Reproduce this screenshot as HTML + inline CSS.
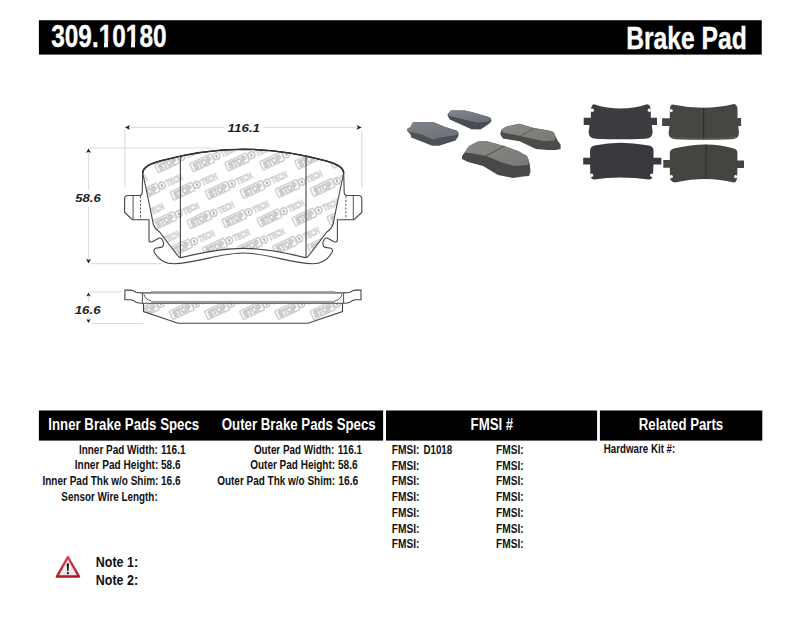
<!DOCTYPE html>
<html><head><meta charset="utf-8">
<style>
html,body{margin:0;padding:0;background:#fff;}
body{width:800px;height:619px;overflow:hidden;}
svg{display:block;font-family:"Liberation Sans",sans-serif;font-weight:bold;}
</style></head><body>
<svg width="800" height="619" viewBox="0 0 800 619">
<rect x="0" y="0" width="800" height="619" fill="#fff"/>
<rect x="38.9" y="20.25" width="722.85" height="34.35" fill="#000"/>
<rect x="38.9" y="410.5" width="344.2" height="30.1" fill="#000"/>
<rect x="386" y="410.5" width="211.1" height="30.1" fill="#000"/>
<rect x="599.9" y="410.5" width="162.4" height="30.1" fill="#000"/>
<g id="drawing">
<defs>
<clipPath id="fclip"><path d="M 243.20 149.20 C 213.00 149.40 182.00 155.00 161.00 160.80 C 150.50 163.80 143.30 166.50 142.70 173.00 L 149.50 205.00 L 153.50 225.00 Q 155.00 229.00 159.50 232.00 L 177.50 255.50 Q 179.00 257.50 181.00 257.60 C 200.00 253.00 220.00 248.40 243.20 248.40 C 266.40 248.40 286.40 253.00 305.40 257.60 Q 307.40 257.50 308.90 255.50 L 326.90 232.00 Q 331.40 229.00 332.90 225.00 L 336.90 205.00 L 343.70 173.00 C 343.10 166.50 335.90 163.80 325.40 160.80 C 304.40 155.00 273.40 149.40 243.20 149.20 Z"/></clipPath>
<clipPath id="sclip"><path d="M143.5 303 L342.5 303 L342.5 311.5 L308 323.3 L178 323.3 L143.5 311.5 Z"/></clipPath>
</defs>
<!-- dimension lines -->
<g stroke="#dedede" stroke-width="1.2" fill="none">
<line x1="124.9" y1="130" x2="124.9" y2="187"/>
<line x1="361.7" y1="130" x2="361.7" y2="188"/>
<line x1="130" y1="127.4" x2="224" y2="127.4"/>
<line x1="263" y1="127.4" x2="356" y2="127.4"/>
<line x1="90" y1="148" x2="217" y2="148"/>
<line x1="91" y1="263.6" x2="162" y2="263.6"/>
<line x1="88.5" y1="152" x2="88.5" y2="190"/>
<line x1="88.5" y1="206" x2="88.5" y2="259"/>
<line x1="90" y1="292" x2="121.5" y2="292"/>
<line x1="91" y1="323.5" x2="143.5" y2="323.5"/>
<line x1="88.5" y1="296" x2="88.5" y2="302"/>
<line x1="88.5" y1="317" x2="88.5" y2="320"/>
</g>
<g fill="#1a1a1a">
<path d="M124.9 127.4 L130 125 L128.8 127.4 L130 129.8 Z"/>
<path d="M361.7 127.4 L356.6 125 L357.8 127.4 L356.6 129.8 Z"/>
<path d="M88.5 148.4 L86 153 L88.5 151.8 L91 153 Z"/>
<path d="M88.5 263.4 L86 258.8 L88.5 260 L91 258.8 Z"/>
<path d="M88.5 292.4 L86.3 296.5 L88.5 295.5 L90.7 296.5 Z"/>
<path d="M88.5 323 L86.3 318.9 L88.5 319.9 L90.7 318.9 Z"/>
</g>
<!-- front view -->
<path d="M 243.20 149.20 C 213.00 149.40 182.00 155.00 161.00 160.80 C 150.50 163.80 143.30 166.50 142.70 173.00 L 142.20 192.50 Q 142.20 195.50 139.00 195.50 L 128.00 195.50 Q 124.60 195.50 124.60 199.00 L 124.60 212.40 L 132.50 219.70 L 149.00 219.70 L 149.00 240.50 Q 149.50 242.50 152.30 241.80 L 159.20 238.00 Q 162.50 237.50 163.60 243.50 Q 163.50 247.00 161.00 247.40 L 155.50 248.30 Q 153.20 249.50 154.20 252.00 C 158.00 259.00 165.00 263.80 174.00 263.80 C 195.00 263.50 220.00 253.00 243.20 253.00 C 266.40 253.00 291.40 263.50 312.40 263.80 C 321.40 263.80 328.40 259.00 332.20 252.00 Q 333.20 249.50 330.90 248.30 L 325.40 247.40 Q 322.90 247.00 322.80 243.50 Q 323.90 237.50 327.20 238.00 L 334.10 241.80 Q 336.90 242.50 337.40 240.50 L 337.40 219.70 L 353.90 219.70 L 361.80 212.40 L 361.80 199.00 Q 361.80 195.50 358.40 195.50 L 347.40 195.50 Q 344.20 195.50 344.20 192.50 L 343.70 173.00 C 343.10 166.50 335.90 163.80 325.40 160.80 C 304.40 155.00 273.40 149.40 243.20 149.20 Z" fill="#fff" stroke="none"/>
<g clip-path="url(#fclip)"><g transform="translate(146.4,158.0) rotate(-25)"><rect x="-27.5" y="-4.5" width="23.5" height="9" rx="1" fill="#fff" stroke="#d0d0d0" stroke-width="1.5"/><text x="-25.3" y="3.4" font-size="9" textLength="19.2" lengthAdjust="spacingAndGlyphs" fill="#fff" stroke="#c8c8c8" stroke-width="1.1">STOP</text><circle cx="0" cy="0" r="3.4" fill="#fff" stroke="#cacaca" stroke-width="1.6"/><ellipse cx="0" cy="0" rx="0.9" ry="1.8" fill="#a8a8a8"/><text x="4.8" y="3.4" font-size="9" textLength="17" lengthAdjust="spacingAndGlyphs" fill="#fff" stroke="#d0d0d0" stroke-width="0.9">TECH</text></g><g transform="translate(126.9,186.4) rotate(-25)"><rect x="-27.5" y="-4.5" width="23.5" height="9" rx="1" fill="#fff" stroke="#d0d0d0" stroke-width="1.5"/><text x="-25.3" y="3.4" font-size="9" textLength="19.2" lengthAdjust="spacingAndGlyphs" fill="#fff" stroke="#c8c8c8" stroke-width="1.1">STOP</text><circle cx="0" cy="0" r="3.4" fill="#fff" stroke="#cacaca" stroke-width="1.6"/><ellipse cx="0" cy="0" rx="0.9" ry="1.8" fill="#a8a8a8"/><text x="4.8" y="3.4" font-size="9" textLength="17" lengthAdjust="spacingAndGlyphs" fill="#fff" stroke="#d0d0d0" stroke-width="0.9">TECH</text></g><g transform="translate(181.4,157.1) rotate(-25)"><rect x="-27.5" y="-4.5" width="23.5" height="9" rx="1" fill="#fff" stroke="#d0d0d0" stroke-width="1.5"/><text x="-25.3" y="3.4" font-size="9" textLength="19.2" lengthAdjust="spacingAndGlyphs" fill="#fff" stroke="#c8c8c8" stroke-width="1.1">STOP</text><circle cx="0" cy="0" r="3.4" fill="#fff" stroke="#cacaca" stroke-width="1.6"/><ellipse cx="0" cy="0" rx="0.9" ry="1.8" fill="#a8a8a8"/><text x="4.8" y="3.4" font-size="9" textLength="17" lengthAdjust="spacingAndGlyphs" fill="#fff" stroke="#d0d0d0" stroke-width="0.9">TECH</text></g><g transform="translate(161.9,185.5) rotate(-25)"><rect x="-27.5" y="-4.5" width="23.5" height="9" rx="1" fill="#fff" stroke="#d0d0d0" stroke-width="1.5"/><text x="-25.3" y="3.4" font-size="9" textLength="19.2" lengthAdjust="spacingAndGlyphs" fill="#fff" stroke="#c8c8c8" stroke-width="1.1">STOP</text><circle cx="0" cy="0" r="3.4" fill="#fff" stroke="#cacaca" stroke-width="1.6"/><ellipse cx="0" cy="0" rx="0.9" ry="1.8" fill="#a8a8a8"/><text x="4.8" y="3.4" font-size="9" textLength="17" lengthAdjust="spacingAndGlyphs" fill="#fff" stroke="#d0d0d0" stroke-width="0.9">TECH</text></g><g transform="translate(216.4,156.2) rotate(-25)"><rect x="-27.5" y="-4.5" width="23.5" height="9" rx="1" fill="#fff" stroke="#d0d0d0" stroke-width="1.5"/><text x="-25.3" y="3.4" font-size="9" textLength="19.2" lengthAdjust="spacingAndGlyphs" fill="#fff" stroke="#c8c8c8" stroke-width="1.1">STOP</text><circle cx="0" cy="0" r="3.4" fill="#fff" stroke="#cacaca" stroke-width="1.6"/><ellipse cx="0" cy="0" rx="0.9" ry="1.8" fill="#a8a8a8"/><text x="4.8" y="3.4" font-size="9" textLength="17" lengthAdjust="spacingAndGlyphs" fill="#fff" stroke="#d0d0d0" stroke-width="0.9">TECH</text></g><g transform="translate(196.9,184.6) rotate(-25)"><rect x="-27.5" y="-4.5" width="23.5" height="9" rx="1" fill="#fff" stroke="#d0d0d0" stroke-width="1.5"/><text x="-25.3" y="3.4" font-size="9" textLength="19.2" lengthAdjust="spacingAndGlyphs" fill="#fff" stroke="#c8c8c8" stroke-width="1.1">STOP</text><circle cx="0" cy="0" r="3.4" fill="#fff" stroke="#cacaca" stroke-width="1.6"/><ellipse cx="0" cy="0" rx="0.9" ry="1.8" fill="#a8a8a8"/><text x="4.8" y="3.4" font-size="9" textLength="17" lengthAdjust="spacingAndGlyphs" fill="#fff" stroke="#d0d0d0" stroke-width="0.9">TECH</text></g><g transform="translate(251.4,155.3) rotate(-25)"><rect x="-27.5" y="-4.5" width="23.5" height="9" rx="1" fill="#fff" stroke="#d0d0d0" stroke-width="1.5"/><text x="-25.3" y="3.4" font-size="9" textLength="19.2" lengthAdjust="spacingAndGlyphs" fill="#fff" stroke="#c8c8c8" stroke-width="1.1">STOP</text><circle cx="0" cy="0" r="3.4" fill="#fff" stroke="#cacaca" stroke-width="1.6"/><ellipse cx="0" cy="0" rx="0.9" ry="1.8" fill="#a8a8a8"/><text x="4.8" y="3.4" font-size="9" textLength="17" lengthAdjust="spacingAndGlyphs" fill="#fff" stroke="#d0d0d0" stroke-width="0.9">TECH</text></g><g transform="translate(231.9,183.7) rotate(-25)"><rect x="-27.5" y="-4.5" width="23.5" height="9" rx="1" fill="#fff" stroke="#d0d0d0" stroke-width="1.5"/><text x="-25.3" y="3.4" font-size="9" textLength="19.2" lengthAdjust="spacingAndGlyphs" fill="#fff" stroke="#c8c8c8" stroke-width="1.1">STOP</text><circle cx="0" cy="0" r="3.4" fill="#fff" stroke="#cacaca" stroke-width="1.6"/><ellipse cx="0" cy="0" rx="0.9" ry="1.8" fill="#a8a8a8"/><text x="4.8" y="3.4" font-size="9" textLength="17" lengthAdjust="spacingAndGlyphs" fill="#fff" stroke="#d0d0d0" stroke-width="0.9">TECH</text></g><g transform="translate(286.4,154.4) rotate(-25)"><rect x="-27.5" y="-4.5" width="23.5" height="9" rx="1" fill="#fff" stroke="#d0d0d0" stroke-width="1.5"/><text x="-25.3" y="3.4" font-size="9" textLength="19.2" lengthAdjust="spacingAndGlyphs" fill="#fff" stroke="#c8c8c8" stroke-width="1.1">STOP</text><circle cx="0" cy="0" r="3.4" fill="#fff" stroke="#cacaca" stroke-width="1.6"/><ellipse cx="0" cy="0" rx="0.9" ry="1.8" fill="#a8a8a8"/><text x="4.8" y="3.4" font-size="9" textLength="17" lengthAdjust="spacingAndGlyphs" fill="#fff" stroke="#d0d0d0" stroke-width="0.9">TECH</text></g><g transform="translate(266.9,182.8) rotate(-25)"><rect x="-27.5" y="-4.5" width="23.5" height="9" rx="1" fill="#fff" stroke="#d0d0d0" stroke-width="1.5"/><text x="-25.3" y="3.4" font-size="9" textLength="19.2" lengthAdjust="spacingAndGlyphs" fill="#fff" stroke="#c8c8c8" stroke-width="1.1">STOP</text><circle cx="0" cy="0" r="3.4" fill="#fff" stroke="#cacaca" stroke-width="1.6"/><ellipse cx="0" cy="0" rx="0.9" ry="1.8" fill="#a8a8a8"/><text x="4.8" y="3.4" font-size="9" textLength="17" lengthAdjust="spacingAndGlyphs" fill="#fff" stroke="#d0d0d0" stroke-width="0.9">TECH</text></g><g transform="translate(321.4,153.5) rotate(-25)"><rect x="-27.5" y="-4.5" width="23.5" height="9" rx="1" fill="#fff" stroke="#d0d0d0" stroke-width="1.5"/><text x="-25.3" y="3.4" font-size="9" textLength="19.2" lengthAdjust="spacingAndGlyphs" fill="#fff" stroke="#c8c8c8" stroke-width="1.1">STOP</text><circle cx="0" cy="0" r="3.4" fill="#fff" stroke="#cacaca" stroke-width="1.6"/><ellipse cx="0" cy="0" rx="0.9" ry="1.8" fill="#a8a8a8"/><text x="4.8" y="3.4" font-size="9" textLength="17" lengthAdjust="spacingAndGlyphs" fill="#fff" stroke="#d0d0d0" stroke-width="0.9">TECH</text></g><g transform="translate(301.9,181.9) rotate(-25)"><rect x="-27.5" y="-4.5" width="23.5" height="9" rx="1" fill="#fff" stroke="#d0d0d0" stroke-width="1.5"/><text x="-25.3" y="3.4" font-size="9" textLength="19.2" lengthAdjust="spacingAndGlyphs" fill="#fff" stroke="#c8c8c8" stroke-width="1.1">STOP</text><circle cx="0" cy="0" r="3.4" fill="#fff" stroke="#cacaca" stroke-width="1.6"/><ellipse cx="0" cy="0" rx="0.9" ry="1.8" fill="#a8a8a8"/><text x="4.8" y="3.4" font-size="9" textLength="17" lengthAdjust="spacingAndGlyphs" fill="#fff" stroke="#d0d0d0" stroke-width="0.9">TECH</text></g><g transform="translate(356.4,152.6) rotate(-25)"><rect x="-27.5" y="-4.5" width="23.5" height="9" rx="1" fill="#fff" stroke="#d0d0d0" stroke-width="1.5"/><text x="-25.3" y="3.4" font-size="9" textLength="19.2" lengthAdjust="spacingAndGlyphs" fill="#fff" stroke="#c8c8c8" stroke-width="1.1">STOP</text><circle cx="0" cy="0" r="3.4" fill="#fff" stroke="#cacaca" stroke-width="1.6"/><ellipse cx="0" cy="0" rx="0.9" ry="1.8" fill="#a8a8a8"/><text x="4.8" y="3.4" font-size="9" textLength="17" lengthAdjust="spacingAndGlyphs" fill="#fff" stroke="#d0d0d0" stroke-width="0.9">TECH</text></g><g transform="translate(336.9,181.0) rotate(-25)"><rect x="-27.5" y="-4.5" width="23.5" height="9" rx="1" fill="#fff" stroke="#d0d0d0" stroke-width="1.5"/><text x="-25.3" y="3.4" font-size="9" textLength="19.2" lengthAdjust="spacingAndGlyphs" fill="#fff" stroke="#c8c8c8" stroke-width="1.1">STOP</text><circle cx="0" cy="0" r="3.4" fill="#fff" stroke="#cacaca" stroke-width="1.6"/><ellipse cx="0" cy="0" rx="0.9" ry="1.8" fill="#a8a8a8"/><text x="4.8" y="3.4" font-size="9" textLength="17" lengthAdjust="spacingAndGlyphs" fill="#fff" stroke="#d0d0d0" stroke-width="0.9">TECH</text></g><g transform="translate(143.7,214.8) rotate(-25)"><rect x="-27.5" y="-4.5" width="23.5" height="9" rx="1" fill="#fff" stroke="#d0d0d0" stroke-width="1.5"/><text x="-25.3" y="3.4" font-size="9" textLength="19.2" lengthAdjust="spacingAndGlyphs" fill="#fff" stroke="#c8c8c8" stroke-width="1.1">STOP</text><circle cx="0" cy="0" r="3.4" fill="#fff" stroke="#cacaca" stroke-width="1.6"/><ellipse cx="0" cy="0" rx="0.9" ry="1.8" fill="#a8a8a8"/><text x="4.8" y="3.4" font-size="9" textLength="17" lengthAdjust="spacingAndGlyphs" fill="#fff" stroke="#d0d0d0" stroke-width="0.9">TECH</text></g><g transform="translate(124.2,243.2) rotate(-25)"><rect x="-27.5" y="-4.5" width="23.5" height="9" rx="1" fill="#fff" stroke="#d0d0d0" stroke-width="1.5"/><text x="-25.3" y="3.4" font-size="9" textLength="19.2" lengthAdjust="spacingAndGlyphs" fill="#fff" stroke="#c8c8c8" stroke-width="1.1">STOP</text><circle cx="0" cy="0" r="3.4" fill="#fff" stroke="#cacaca" stroke-width="1.6"/><ellipse cx="0" cy="0" rx="0.9" ry="1.8" fill="#a8a8a8"/><text x="4.8" y="3.4" font-size="9" textLength="17" lengthAdjust="spacingAndGlyphs" fill="#fff" stroke="#d0d0d0" stroke-width="0.9">TECH</text></g><g transform="translate(178.7,213.9) rotate(-25)"><rect x="-27.5" y="-4.5" width="23.5" height="9" rx="1" fill="#fff" stroke="#d0d0d0" stroke-width="1.5"/><text x="-25.3" y="3.4" font-size="9" textLength="19.2" lengthAdjust="spacingAndGlyphs" fill="#fff" stroke="#c8c8c8" stroke-width="1.1">STOP</text><circle cx="0" cy="0" r="3.4" fill="#fff" stroke="#cacaca" stroke-width="1.6"/><ellipse cx="0" cy="0" rx="0.9" ry="1.8" fill="#a8a8a8"/><text x="4.8" y="3.4" font-size="9" textLength="17" lengthAdjust="spacingAndGlyphs" fill="#fff" stroke="#d0d0d0" stroke-width="0.9">TECH</text></g><g transform="translate(159.2,242.3) rotate(-25)"><rect x="-27.5" y="-4.5" width="23.5" height="9" rx="1" fill="#fff" stroke="#d0d0d0" stroke-width="1.5"/><text x="-25.3" y="3.4" font-size="9" textLength="19.2" lengthAdjust="spacingAndGlyphs" fill="#fff" stroke="#c8c8c8" stroke-width="1.1">STOP</text><circle cx="0" cy="0" r="3.4" fill="#fff" stroke="#cacaca" stroke-width="1.6"/><ellipse cx="0" cy="0" rx="0.9" ry="1.8" fill="#a8a8a8"/><text x="4.8" y="3.4" font-size="9" textLength="17" lengthAdjust="spacingAndGlyphs" fill="#fff" stroke="#d0d0d0" stroke-width="0.9">TECH</text></g><g transform="translate(213.7,213.0) rotate(-25)"><rect x="-27.5" y="-4.5" width="23.5" height="9" rx="1" fill="#fff" stroke="#d0d0d0" stroke-width="1.5"/><text x="-25.3" y="3.4" font-size="9" textLength="19.2" lengthAdjust="spacingAndGlyphs" fill="#fff" stroke="#c8c8c8" stroke-width="1.1">STOP</text><circle cx="0" cy="0" r="3.4" fill="#fff" stroke="#cacaca" stroke-width="1.6"/><ellipse cx="0" cy="0" rx="0.9" ry="1.8" fill="#a8a8a8"/><text x="4.8" y="3.4" font-size="9" textLength="17" lengthAdjust="spacingAndGlyphs" fill="#fff" stroke="#d0d0d0" stroke-width="0.9">TECH</text></g><g transform="translate(194.2,241.4) rotate(-25)"><rect x="-27.5" y="-4.5" width="23.5" height="9" rx="1" fill="#fff" stroke="#d0d0d0" stroke-width="1.5"/><text x="-25.3" y="3.4" font-size="9" textLength="19.2" lengthAdjust="spacingAndGlyphs" fill="#fff" stroke="#c8c8c8" stroke-width="1.1">STOP</text><circle cx="0" cy="0" r="3.4" fill="#fff" stroke="#cacaca" stroke-width="1.6"/><ellipse cx="0" cy="0" rx="0.9" ry="1.8" fill="#a8a8a8"/><text x="4.8" y="3.4" font-size="9" textLength="17" lengthAdjust="spacingAndGlyphs" fill="#fff" stroke="#d0d0d0" stroke-width="0.9">TECH</text></g><g transform="translate(248.7,212.1) rotate(-25)"><rect x="-27.5" y="-4.5" width="23.5" height="9" rx="1" fill="#fff" stroke="#d0d0d0" stroke-width="1.5"/><text x="-25.3" y="3.4" font-size="9" textLength="19.2" lengthAdjust="spacingAndGlyphs" fill="#fff" stroke="#c8c8c8" stroke-width="1.1">STOP</text><circle cx="0" cy="0" r="3.4" fill="#fff" stroke="#cacaca" stroke-width="1.6"/><ellipse cx="0" cy="0" rx="0.9" ry="1.8" fill="#a8a8a8"/><text x="4.8" y="3.4" font-size="9" textLength="17" lengthAdjust="spacingAndGlyphs" fill="#fff" stroke="#d0d0d0" stroke-width="0.9">TECH</text></g><g transform="translate(229.2,240.5) rotate(-25)"><rect x="-27.5" y="-4.5" width="23.5" height="9" rx="1" fill="#fff" stroke="#d0d0d0" stroke-width="1.5"/><text x="-25.3" y="3.4" font-size="9" textLength="19.2" lengthAdjust="spacingAndGlyphs" fill="#fff" stroke="#c8c8c8" stroke-width="1.1">STOP</text><circle cx="0" cy="0" r="3.4" fill="#fff" stroke="#cacaca" stroke-width="1.6"/><ellipse cx="0" cy="0" rx="0.9" ry="1.8" fill="#a8a8a8"/><text x="4.8" y="3.4" font-size="9" textLength="17" lengthAdjust="spacingAndGlyphs" fill="#fff" stroke="#d0d0d0" stroke-width="0.9">TECH</text></g><g transform="translate(283.7,211.2) rotate(-25)"><rect x="-27.5" y="-4.5" width="23.5" height="9" rx="1" fill="#fff" stroke="#d0d0d0" stroke-width="1.5"/><text x="-25.3" y="3.4" font-size="9" textLength="19.2" lengthAdjust="spacingAndGlyphs" fill="#fff" stroke="#c8c8c8" stroke-width="1.1">STOP</text><circle cx="0" cy="0" r="3.4" fill="#fff" stroke="#cacaca" stroke-width="1.6"/><ellipse cx="0" cy="0" rx="0.9" ry="1.8" fill="#a8a8a8"/><text x="4.8" y="3.4" font-size="9" textLength="17" lengthAdjust="spacingAndGlyphs" fill="#fff" stroke="#d0d0d0" stroke-width="0.9">TECH</text></g><g transform="translate(264.2,239.6) rotate(-25)"><rect x="-27.5" y="-4.5" width="23.5" height="9" rx="1" fill="#fff" stroke="#d0d0d0" stroke-width="1.5"/><text x="-25.3" y="3.4" font-size="9" textLength="19.2" lengthAdjust="spacingAndGlyphs" fill="#fff" stroke="#c8c8c8" stroke-width="1.1">STOP</text><circle cx="0" cy="0" r="3.4" fill="#fff" stroke="#cacaca" stroke-width="1.6"/><ellipse cx="0" cy="0" rx="0.9" ry="1.8" fill="#a8a8a8"/><text x="4.8" y="3.4" font-size="9" textLength="17" lengthAdjust="spacingAndGlyphs" fill="#fff" stroke="#d0d0d0" stroke-width="0.9">TECH</text></g><g transform="translate(318.7,210.3) rotate(-25)"><rect x="-27.5" y="-4.5" width="23.5" height="9" rx="1" fill="#fff" stroke="#d0d0d0" stroke-width="1.5"/><text x="-25.3" y="3.4" font-size="9" textLength="19.2" lengthAdjust="spacingAndGlyphs" fill="#fff" stroke="#c8c8c8" stroke-width="1.1">STOP</text><circle cx="0" cy="0" r="3.4" fill="#fff" stroke="#cacaca" stroke-width="1.6"/><ellipse cx="0" cy="0" rx="0.9" ry="1.8" fill="#a8a8a8"/><text x="4.8" y="3.4" font-size="9" textLength="17" lengthAdjust="spacingAndGlyphs" fill="#fff" stroke="#d0d0d0" stroke-width="0.9">TECH</text></g><g transform="translate(299.2,238.7) rotate(-25)"><rect x="-27.5" y="-4.5" width="23.5" height="9" rx="1" fill="#fff" stroke="#d0d0d0" stroke-width="1.5"/><text x="-25.3" y="3.4" font-size="9" textLength="19.2" lengthAdjust="spacingAndGlyphs" fill="#fff" stroke="#c8c8c8" stroke-width="1.1">STOP</text><circle cx="0" cy="0" r="3.4" fill="#fff" stroke="#cacaca" stroke-width="1.6"/><ellipse cx="0" cy="0" rx="0.9" ry="1.8" fill="#a8a8a8"/><text x="4.8" y="3.4" font-size="9" textLength="17" lengthAdjust="spacingAndGlyphs" fill="#fff" stroke="#d0d0d0" stroke-width="0.9">TECH</text></g><g transform="translate(353.7,209.4) rotate(-25)"><rect x="-27.5" y="-4.5" width="23.5" height="9" rx="1" fill="#fff" stroke="#d0d0d0" stroke-width="1.5"/><text x="-25.3" y="3.4" font-size="9" textLength="19.2" lengthAdjust="spacingAndGlyphs" fill="#fff" stroke="#c8c8c8" stroke-width="1.1">STOP</text><circle cx="0" cy="0" r="3.4" fill="#fff" stroke="#cacaca" stroke-width="1.6"/><ellipse cx="0" cy="0" rx="0.9" ry="1.8" fill="#a8a8a8"/><text x="4.8" y="3.4" font-size="9" textLength="17" lengthAdjust="spacingAndGlyphs" fill="#fff" stroke="#d0d0d0" stroke-width="0.9">TECH</text></g><g transform="translate(334.2,237.8) rotate(-25)"><rect x="-27.5" y="-4.5" width="23.5" height="9" rx="1" fill="#fff" stroke="#d0d0d0" stroke-width="1.5"/><text x="-25.3" y="3.4" font-size="9" textLength="19.2" lengthAdjust="spacingAndGlyphs" fill="#fff" stroke="#c8c8c8" stroke-width="1.1">STOP</text><circle cx="0" cy="0" r="3.4" fill="#fff" stroke="#cacaca" stroke-width="1.6"/><ellipse cx="0" cy="0" rx="0.9" ry="1.8" fill="#a8a8a8"/><text x="4.8" y="3.4" font-size="9" textLength="17" lengthAdjust="spacingAndGlyphs" fill="#fff" stroke="#d0d0d0" stroke-width="0.9">TECH</text></g><g transform="translate(369.2,236.9) rotate(-25)"><rect x="-27.5" y="-4.5" width="23.5" height="9" rx="1" fill="#fff" stroke="#d0d0d0" stroke-width="1.5"/><text x="-25.3" y="3.4" font-size="9" textLength="19.2" lengthAdjust="spacingAndGlyphs" fill="#fff" stroke="#c8c8c8" stroke-width="1.1">STOP</text><circle cx="0" cy="0" r="3.4" fill="#fff" stroke="#cacaca" stroke-width="1.6"/><ellipse cx="0" cy="0" rx="0.9" ry="1.8" fill="#a8a8a8"/><text x="4.8" y="3.4" font-size="9" textLength="17" lengthAdjust="spacingAndGlyphs" fill="#fff" stroke="#d0d0d0" stroke-width="0.9">TECH</text></g><g transform="translate(141.0,271.6) rotate(-25)"><rect x="-27.5" y="-4.5" width="23.5" height="9" rx="1" fill="#fff" stroke="#d0d0d0" stroke-width="1.5"/><text x="-25.3" y="3.4" font-size="9" textLength="19.2" lengthAdjust="spacingAndGlyphs" fill="#fff" stroke="#c8c8c8" stroke-width="1.1">STOP</text><circle cx="0" cy="0" r="3.4" fill="#fff" stroke="#cacaca" stroke-width="1.6"/><ellipse cx="0" cy="0" rx="0.9" ry="1.8" fill="#a8a8a8"/><text x="4.8" y="3.4" font-size="9" textLength="17" lengthAdjust="spacingAndGlyphs" fill="#fff" stroke="#d0d0d0" stroke-width="0.9">TECH</text></g><g transform="translate(176.0,270.7) rotate(-25)"><rect x="-27.5" y="-4.5" width="23.5" height="9" rx="1" fill="#fff" stroke="#d0d0d0" stroke-width="1.5"/><text x="-25.3" y="3.4" font-size="9" textLength="19.2" lengthAdjust="spacingAndGlyphs" fill="#fff" stroke="#c8c8c8" stroke-width="1.1">STOP</text><circle cx="0" cy="0" r="3.4" fill="#fff" stroke="#cacaca" stroke-width="1.6"/><ellipse cx="0" cy="0" rx="0.9" ry="1.8" fill="#a8a8a8"/><text x="4.8" y="3.4" font-size="9" textLength="17" lengthAdjust="spacingAndGlyphs" fill="#fff" stroke="#d0d0d0" stroke-width="0.9">TECH</text></g><g transform="translate(211.0,269.8) rotate(-25)"><rect x="-27.5" y="-4.5" width="23.5" height="9" rx="1" fill="#fff" stroke="#d0d0d0" stroke-width="1.5"/><text x="-25.3" y="3.4" font-size="9" textLength="19.2" lengthAdjust="spacingAndGlyphs" fill="#fff" stroke="#c8c8c8" stroke-width="1.1">STOP</text><circle cx="0" cy="0" r="3.4" fill="#fff" stroke="#cacaca" stroke-width="1.6"/><ellipse cx="0" cy="0" rx="0.9" ry="1.8" fill="#a8a8a8"/><text x="4.8" y="3.4" font-size="9" textLength="17" lengthAdjust="spacingAndGlyphs" fill="#fff" stroke="#d0d0d0" stroke-width="0.9">TECH</text></g><g transform="translate(246.0,268.9) rotate(-25)"><rect x="-27.5" y="-4.5" width="23.5" height="9" rx="1" fill="#fff" stroke="#d0d0d0" stroke-width="1.5"/><text x="-25.3" y="3.4" font-size="9" textLength="19.2" lengthAdjust="spacingAndGlyphs" fill="#fff" stroke="#c8c8c8" stroke-width="1.1">STOP</text><circle cx="0" cy="0" r="3.4" fill="#fff" stroke="#cacaca" stroke-width="1.6"/><ellipse cx="0" cy="0" rx="0.9" ry="1.8" fill="#a8a8a8"/><text x="4.8" y="3.4" font-size="9" textLength="17" lengthAdjust="spacingAndGlyphs" fill="#fff" stroke="#d0d0d0" stroke-width="0.9">TECH</text></g><g transform="translate(281.0,268.0) rotate(-25)"><rect x="-27.5" y="-4.5" width="23.5" height="9" rx="1" fill="#fff" stroke="#d0d0d0" stroke-width="1.5"/><text x="-25.3" y="3.4" font-size="9" textLength="19.2" lengthAdjust="spacingAndGlyphs" fill="#fff" stroke="#c8c8c8" stroke-width="1.1">STOP</text><circle cx="0" cy="0" r="3.4" fill="#fff" stroke="#cacaca" stroke-width="1.6"/><ellipse cx="0" cy="0" rx="0.9" ry="1.8" fill="#a8a8a8"/><text x="4.8" y="3.4" font-size="9" textLength="17" lengthAdjust="spacingAndGlyphs" fill="#fff" stroke="#d0d0d0" stroke-width="0.9">TECH</text></g><g transform="translate(316.0,267.1) rotate(-25)"><rect x="-27.5" y="-4.5" width="23.5" height="9" rx="1" fill="#fff" stroke="#d0d0d0" stroke-width="1.5"/><text x="-25.3" y="3.4" font-size="9" textLength="19.2" lengthAdjust="spacingAndGlyphs" fill="#fff" stroke="#c8c8c8" stroke-width="1.1">STOP</text><circle cx="0" cy="0" r="3.4" fill="#fff" stroke="#cacaca" stroke-width="1.6"/><ellipse cx="0" cy="0" rx="0.9" ry="1.8" fill="#a8a8a8"/><text x="4.8" y="3.4" font-size="9" textLength="17" lengthAdjust="spacingAndGlyphs" fill="#fff" stroke="#d0d0d0" stroke-width="0.9">TECH</text></g><g transform="translate(351.0,266.2) rotate(-25)"><rect x="-27.5" y="-4.5" width="23.5" height="9" rx="1" fill="#fff" stroke="#d0d0d0" stroke-width="1.5"/><text x="-25.3" y="3.4" font-size="9" textLength="19.2" lengthAdjust="spacingAndGlyphs" fill="#fff" stroke="#c8c8c8" stroke-width="1.1">STOP</text><circle cx="0" cy="0" r="3.4" fill="#fff" stroke="#cacaca" stroke-width="1.6"/><ellipse cx="0" cy="0" rx="0.9" ry="1.8" fill="#a8a8a8"/><text x="4.8" y="3.4" font-size="9" textLength="17" lengthAdjust="spacingAndGlyphs" fill="#fff" stroke="#d0d0d0" stroke-width="0.9">TECH</text></g></g>
<path d="M 243.20 149.20 C 213.00 149.40 182.00 155.00 161.00 160.80 C 150.50 163.80 143.30 166.50 142.70 173.00 L 149.50 205.00 L 153.50 225.00 Q 155.00 229.00 159.50 232.00 L 177.50 255.50 Q 179.00 257.50 181.00 257.60 C 200.00 253.00 220.00 248.40 243.20 248.40 C 266.40 248.40 286.40 253.00 305.40 257.60 Q 307.40 257.50 308.90 255.50 L 326.90 232.00 Q 331.40 229.00 332.90 225.00 L 336.90 205.00 L 343.70 173.00 C 343.10 166.50 335.90 163.80 325.40 160.80 C 304.40 155.00 273.40 149.40 243.20 149.20 Z" fill="none" stroke="#444" stroke-width="1.1"/>
<path d="M 243.20 149.20 C 213.00 149.40 182.00 155.00 161.00 160.80 C 150.50 163.80 143.30 166.50 142.70 173.00 L 142.20 192.50 Q 142.20 195.50 139.00 195.50 L 128.00 195.50 Q 124.60 195.50 124.60 199.00 L 124.60 212.40 L 132.50 219.70 L 149.00 219.70 L 149.00 240.50 Q 149.50 242.50 152.30 241.80 L 159.20 238.00 Q 162.50 237.50 163.60 243.50 Q 163.50 247.00 161.00 247.40 L 155.50 248.30 Q 153.20 249.50 154.20 252.00 C 158.00 259.00 165.00 263.80 174.00 263.80 C 195.00 263.50 220.00 253.00 243.20 253.00 C 266.40 253.00 291.40 263.50 312.40 263.80 C 321.40 263.80 328.40 259.00 332.20 252.00 Q 333.20 249.50 330.90 248.30 L 325.40 247.40 Q 322.90 247.00 322.80 243.50 Q 323.90 237.50 327.20 238.00 L 334.10 241.80 Q 336.90 242.50 337.40 240.50 L 337.40 219.70 L 353.90 219.70 L 361.80 212.40 L 361.80 199.00 Q 361.80 195.50 358.40 195.50 L 347.40 195.50 Q 344.20 195.50 344.20 192.50 L 343.70 173.00 C 343.10 166.50 335.90 163.80 325.40 160.80 C 304.40 155.00 273.40 149.40 243.20 149.20 Z" fill="none" stroke="#444" stroke-width="1.1"/>
<path d="M243.2 149.2 C213 149.4 182 155 161 160.8 C150.5 163.8 143.3 166.5 142.7 173 M243.2 149.2 C273.4 149.4 304.4 155 325.4 160.8 C335.9 163.8 343.1 166.5 343.7 173" fill="none" stroke="#333" stroke-width="1.6"/>
<line x1="180.4" y1="155.6" x2="180.4" y2="257.6" stroke="#444" stroke-width="1.1"/>
<line x1="306.0" y1="155.6" x2="306.0" y2="257.6" stroke="#444" stroke-width="1.1"/>
<g stroke="#555" stroke-width="1">
<line x1="133.1" y1="195.5" x2="133.1" y2="219.7"/>
<line x1="353.3" y1="195.5" x2="353.3" y2="219.7"/>
<line x1="140.5" y1="196" x2="140.5" y2="219.7" stroke-dasharray="2.2 1.6"/>
<line x1="345.9" y1="196" x2="345.9" y2="219.7" stroke-dasharray="2.2 1.6"/>
</g>
<!-- side view -->
<g clip-path="url(#sclip)"><g transform="translate(160.8,303.8) rotate(-25)"><rect x="-27.5" y="-4.5" width="23.5" height="9" rx="1" fill="#fff" stroke="#d0d0d0" stroke-width="1.5"/><text x="-25.3" y="3.4" font-size="9" textLength="19.2" lengthAdjust="spacingAndGlyphs" fill="#fff" stroke="#c8c8c8" stroke-width="1.1">STOP</text><circle cx="0" cy="0" r="3.4" fill="#fff" stroke="#cacaca" stroke-width="1.6"/><ellipse cx="0" cy="0" rx="0.9" ry="1.8" fill="#a8a8a8"/><text x="4.8" y="3.4" font-size="9" textLength="17" lengthAdjust="spacingAndGlyphs" fill="#fff" stroke="#d0d0d0" stroke-width="0.9">TECH</text></g><g transform="translate(196.0,303.8) rotate(-25)"><rect x="-27.5" y="-4.5" width="23.5" height="9" rx="1" fill="#fff" stroke="#d0d0d0" stroke-width="1.5"/><text x="-25.3" y="3.4" font-size="9" textLength="19.2" lengthAdjust="spacingAndGlyphs" fill="#fff" stroke="#c8c8c8" stroke-width="1.1">STOP</text><circle cx="0" cy="0" r="3.4" fill="#fff" stroke="#cacaca" stroke-width="1.6"/><ellipse cx="0" cy="0" rx="0.9" ry="1.8" fill="#a8a8a8"/><text x="4.8" y="3.4" font-size="9" textLength="17" lengthAdjust="spacingAndGlyphs" fill="#fff" stroke="#d0d0d0" stroke-width="0.9">TECH</text></g><g transform="translate(231.2,303.8) rotate(-25)"><rect x="-27.5" y="-4.5" width="23.5" height="9" rx="1" fill="#fff" stroke="#d0d0d0" stroke-width="1.5"/><text x="-25.3" y="3.4" font-size="9" textLength="19.2" lengthAdjust="spacingAndGlyphs" fill="#fff" stroke="#c8c8c8" stroke-width="1.1">STOP</text><circle cx="0" cy="0" r="3.4" fill="#fff" stroke="#cacaca" stroke-width="1.6"/><ellipse cx="0" cy="0" rx="0.9" ry="1.8" fill="#a8a8a8"/><text x="4.8" y="3.4" font-size="9" textLength="17" lengthAdjust="spacingAndGlyphs" fill="#fff" stroke="#d0d0d0" stroke-width="0.9">TECH</text></g><g transform="translate(266.4,303.8) rotate(-25)"><rect x="-27.5" y="-4.5" width="23.5" height="9" rx="1" fill="#fff" stroke="#d0d0d0" stroke-width="1.5"/><text x="-25.3" y="3.4" font-size="9" textLength="19.2" lengthAdjust="spacingAndGlyphs" fill="#fff" stroke="#c8c8c8" stroke-width="1.1">STOP</text><circle cx="0" cy="0" r="3.4" fill="#fff" stroke="#cacaca" stroke-width="1.6"/><ellipse cx="0" cy="0" rx="0.9" ry="1.8" fill="#a8a8a8"/><text x="4.8" y="3.4" font-size="9" textLength="17" lengthAdjust="spacingAndGlyphs" fill="#fff" stroke="#d0d0d0" stroke-width="0.9">TECH</text></g><g transform="translate(301.6,303.8) rotate(-25)"><rect x="-27.5" y="-4.5" width="23.5" height="9" rx="1" fill="#fff" stroke="#d0d0d0" stroke-width="1.5"/><text x="-25.3" y="3.4" font-size="9" textLength="19.2" lengthAdjust="spacingAndGlyphs" fill="#fff" stroke="#c8c8c8" stroke-width="1.1">STOP</text><circle cx="0" cy="0" r="3.4" fill="#fff" stroke="#cacaca" stroke-width="1.6"/><ellipse cx="0" cy="0" rx="0.9" ry="1.8" fill="#a8a8a8"/><text x="4.8" y="3.4" font-size="9" textLength="17" lengthAdjust="spacingAndGlyphs" fill="#fff" stroke="#d0d0d0" stroke-width="0.9">TECH</text></g><g transform="translate(336.8,303.8) rotate(-25)"><rect x="-27.5" y="-4.5" width="23.5" height="9" rx="1" fill="#fff" stroke="#d0d0d0" stroke-width="1.5"/><text x="-25.3" y="3.4" font-size="9" textLength="19.2" lengthAdjust="spacingAndGlyphs" fill="#fff" stroke="#c8c8c8" stroke-width="1.1">STOP</text><circle cx="0" cy="0" r="3.4" fill="#fff" stroke="#cacaca" stroke-width="1.6"/><ellipse cx="0" cy="0" rx="0.9" ry="1.8" fill="#a8a8a8"/><text x="4.8" y="3.4" font-size="9" textLength="17" lengthAdjust="spacingAndGlyphs" fill="#fff" stroke="#d0d0d0" stroke-width="0.9">TECH</text></g><g transform="translate(372.0,303.8) rotate(-25)"><rect x="-27.5" y="-4.5" width="23.5" height="9" rx="1" fill="#fff" stroke="#d0d0d0" stroke-width="1.5"/><text x="-25.3" y="3.4" font-size="9" textLength="19.2" lengthAdjust="spacingAndGlyphs" fill="#fff" stroke="#c8c8c8" stroke-width="1.1">STOP</text><circle cx="0" cy="0" r="3.4" fill="#fff" stroke="#cacaca" stroke-width="1.6"/><ellipse cx="0" cy="0" rx="0.9" ry="1.8" fill="#a8a8a8"/><text x="4.8" y="3.4" font-size="9" textLength="17" lengthAdjust="spacingAndGlyphs" fill="#fff" stroke="#d0d0d0" stroke-width="0.9">TECH</text></g><g transform="translate(407.2,303.8) rotate(-25)"><rect x="-27.5" y="-4.5" width="23.5" height="9" rx="1" fill="#fff" stroke="#d0d0d0" stroke-width="1.5"/><text x="-25.3" y="3.4" font-size="9" textLength="19.2" lengthAdjust="spacingAndGlyphs" fill="#fff" stroke="#c8c8c8" stroke-width="1.1">STOP</text><circle cx="0" cy="0" r="3.4" fill="#fff" stroke="#cacaca" stroke-width="1.6"/><ellipse cx="0" cy="0" rx="0.9" ry="1.8" fill="#a8a8a8"/><text x="4.8" y="3.4" font-size="9" textLength="17" lengthAdjust="spacingAndGlyphs" fill="#fff" stroke="#d0d0d0" stroke-width="0.9">TECH</text></g><g transform="translate(442.4,303.8) rotate(-25)"><rect x="-27.5" y="-4.5" width="23.5" height="9" rx="1" fill="#fff" stroke="#d0d0d0" stroke-width="1.5"/><text x="-25.3" y="3.4" font-size="9" textLength="19.2" lengthAdjust="spacingAndGlyphs" fill="#fff" stroke="#c8c8c8" stroke-width="1.1">STOP</text><circle cx="0" cy="0" r="3.4" fill="#fff" stroke="#cacaca" stroke-width="1.6"/><ellipse cx="0" cy="0" rx="0.9" ry="1.8" fill="#a8a8a8"/><text x="4.8" y="3.4" font-size="9" textLength="17" lengthAdjust="spacingAndGlyphs" fill="#fff" stroke="#d0d0d0" stroke-width="0.9">TECH</text></g></g>
<path d="M143.5 303 L143.5 311.5 L178 323.3 L308 323.3 L342.5 311.5 L342.5 303" fill="none" stroke="#444" stroke-width="1.1"/>
<path d="M124.9 290.1 L130.8 290.1 Q133.5 290.3 136 292.2 Q138.5 292.9 142 292.9 L344 292.9 Q347.5 292.9 350 292.2 Q352.5 290.3 355.2 290.1 L361 290.1 L361 299.7 L355.2 299.7 Q352.5 299.9 350 302.2 Q347.5 303.2 344 303.2 L142 303.2 Q138.5 303.2 136 302.2 Q133.5 299.9 130.8 299.7 L124.9 299.7 Z" fill="none" stroke="#444" stroke-width="1.1"/>
<rect x="151" y="291.1" width="184" height="2.3" fill="#9a9a9a"/>
<rect x="151" y="300.9" width="184" height="2.1" fill="#9a9a9a"/>
<line x1="142.4" y1="292.9" x2="142.4" y2="303" stroke="#555" stroke-width="1"/>
<line x1="343.6" y1="292.9" x2="343.6" y2="303" stroke="#555" stroke-width="1"/>
<path d="M143.9 294.2 Q145 299.5 151 300.8" fill="none" stroke="#555" stroke-width="1"/>
<path d="M342.1 294.2 Q341 299.5 335 300.8" fill="none" stroke="#555" stroke-width="1"/>
</g>
<g id="photos">
<defs>
<filter id="soft" x="-5%" y="-5%" width="110%" height="110%"><feGaussianBlur stdDeviation="0.5"/></filter>
<linearGradient id="gA" x1="0" y1="0" x2="1" y2="1"><stop offset="0" stop-color="#7f848a"/><stop offset="1" stop-color="#6a6f75"/></linearGradient>
<linearGradient id="gC" x1="0" y1="0" x2="1" y2="1"><stop offset="0" stop-color="#8b8985"/><stop offset="1" stop-color="#7a7874"/></linearGradient>
</defs>
<g filter="url(#soft)">
<!-- Pad B: top back pad -->
<path d="M447.9 113.9 L450.9 110.5 L464.75 110.5 L471.5 112 L489.5 117.25 L491 118.75 L491.3 121.5 L488.75 124 L480.5 129.6 L471.5 129.25 L449.75 119.5 L447.6 115.5 Z" fill="#4a4e53"/>
<path d="M447.9 113.9 L450.9 110.5 L464.75 110.5 L471.5 112 L489.5 117.25 L491 118.75 L488 121.75 L476.75 122.5 L449.75 116.1 Z" fill="url(#gA)"/>
<!-- Pad A: left back pad -->
<path d="M407.1 128.9 L410.5 127 L412.75 122.5 L417.25 122.1 L433 122.1 L445 127 L457 130.75 L458.5 133 L458.5 136 L455.5 140.5 L439 145.75 L432.25 145.75 L411.25 137.5 L410.5 134.5 L407.1 130.75 Z" fill="#4d5156"/>
<path d="M407.1 128.9 L410.5 127 L412.75 122.5 L417.25 122.1 L433 122.1 L445 127 L457 130.75 L458.5 133 L455.5 135.25 L440.5 137.5 L432.25 139.4 L421.75 134.5 L410.5 131.9 L407.1 130.75 Z" fill="url(#gA)"/>
<!-- Pad D: right friction pad -->
<path d="M501.6 129.4 L506.4 126.4 L519.5 123.75 L533.5 128.1 L547.5 130.3 L553.6 132.1 L555.4 136 L558 141.25 L560.6 144.5 L560.6 149 L555.4 150 L547.5 150 L536 149.1 L519.5 141.25 L502.9 138.6 L500.25 134.25 Z" fill="#4b4b49"/>
<path d="M501.6 129.4 L506.4 126.4 L519.5 123.75 L533.5 128.1 L547.5 130.3 L553.6 132.1 L555.4 136 L554.5 140.4 L544 141.25 L520.4 136 L502.9 132.5 Z" fill="url(#gC)"/>
<line x1="520.4" y1="136" x2="534" y2="128.1" stroke="#5a5955" stroke-width="1"/>
<!-- Pad C: front center friction pad -->
<path d="M465 152 L469 146 L478 141.5 L486 141 L504 146 L518 151 L527 156 L529 161 L530 166 L530.5 172 L529 176 L523 176.5 L513 178 L498 175 L483 166 L468 162 L462 159 L462 156 Z" fill="#4a4a48"/>
<path d="M465 152 L469 146 L478 141.5 L486 141 L504 146 L518 151 L527 156 L529 161 L528 165 L514 166 L501 162 L486 156 L473 153.5 L465 152.5 Z" fill="url(#gC)"/>
<line x1="486" y1="156" x2="504.5" y2="146" stroke="#5a5955" stroke-width="1.1"/>
<!-- Top view: Pad E backing -->
<path d="M594 104.2 Q607 108.6 620.4 108.6 Q634 108.6 647 104.2 Q650.5 104.5 650.8 110 L650.8 117.7 L657 117.7 L657 125.1 L651.8 125.1 L652.6 132 Q652.6 138.5 645 138.8 Q633 139.3 620.4 139.3 Q607 139.3 596 138.8 Q588.6 138.5 588.6 132 L589.5 125.1 L583.7 125.1 L583.7 117.7 L590.8 117.7 L591 110 Q591.3 104.5 594 104.2 Z" fill="#3a3c3f"/>
<circle cx="592.3" cy="110.3" r="1.7" fill="#fff"/>
<circle cx="649.4" cy="110.3" r="1.7" fill="#fff"/>
<!-- Pad F friction -->
<path d="M672.5 104.5 Q688 107.8 703.7 107.8 Q718 107.8 734 104 Q737.5 104.5 737.5 110 L737.5 118 L741.1 118 L741.1 126 L738.3 126 L739 133 Q739 138.8 731 139.2 Q717 139.8 703.7 139.8 Q690 139.8 676 139.2 Q668.6 138.8 668.6 133 L669.5 125.9 L662.1 125.9 L662.1 118.2 L669.8 118.2 L669.8 110 Q670 104.8 672.5 104.5 Z" fill="#454642"/>
<circle cx="671.2" cy="110.5" r="1.6" fill="#fff"/>
<line x1="703.7" y1="107.8" x2="703.7" y2="139.6" stroke="#2b2c2a" stroke-width="1.1"/>
<path d="M671 137.2 Q688 138.8 703.7 138.9 Q719 138.8 736.5 137.2" fill="none" stroke="#62635f" stroke-width="0.9"/>
<!-- Pad G backing bottom-left -->
<path d="M590.1 150.5 Q590.5 145.8 596 145.3 Q608 142.8 620.4 142.8 Q633 142.8 647.5 145.3 Q653.3 145.8 653.5 150.5 L653.5 157.7 L661.3 157.7 L661.3 164.6 L653.5 164.6 L653 174 Q652.8 179.5 649 179.6 Q635 177.5 620.4 177.5 Q606 177.5 594.5 179.6 Q590.5 179.5 590.3 174 L590.1 164.6 L583.2 164.6 L583.2 157.7 L590.1 157.7 Z" fill="#38393c"/>
<circle cx="591.6" cy="175.2" r="1.7" fill="#fff"/>
<circle cx="651.8" cy="175.2" r="1.7" fill="#fff"/>
<!-- Pad H friction bottom-right -->
<path d="M669.8 153 Q670.3 148.8 675 148.3 Q690 144.5 706 144.5 Q721 144.5 733 148.3 Q737.2 148.8 737.4 153 L737.4 160.5 L744 160.5 L744 168 L737.4 168 L737.2 177 Q737 182.4 733.5 182.6 Q720 179 706 179 Q691 179 675 182.4 Q670.2 182.2 670 177 L669.8 167.7 L663.3 167.7 L663.3 160 L669.8 160 Z" fill="#444541"/>
<circle cx="671.3" cy="176.6" r="1.6" fill="#fff"/>
<circle cx="735.7" cy="176.6" r="1.6" fill="#fff"/>
<line x1="706" y1="144.5" x2="706" y2="179" stroke="#2b2c2a" stroke-width="1.1"/>
</g>
</g>

<g id="warn">
<defs><linearGradient id="tr" x1="0" y1="0" x2="0" y2="1"><stop offset="0" stop-color="#d8484c"/><stop offset="1" stop-color="#a51d22"/></linearGradient>
<linearGradient id="tf" x1="0" y1="0" x2="0" y2="1"><stop offset="0" stop-color="#fdfafa"/><stop offset="1" stop-color="#ece4e4"/></linearGradient></defs>
<path d="M67.9 557.1 L79 576.5 L56.9 576.5 Z" fill="url(#tf)" stroke="url(#tr)" stroke-width="2.4" stroke-linejoin="round"/>
<path d="M66.6 563.6 L69.1 563.6 L68.4 571.3 L67.3 571.3 Z" fill="#151515"/>
<rect x="66.9" y="572.2" width="1.9" height="2" fill="#151515"/>
</g>
<text x="51.18" y="47.30" font-size="30.8" textLength="115.43" lengthAdjust="spacingAndGlyphs" fill="#fff" stroke="#fff" stroke-width="0.35">309.10180</text>
<text x="626.13" y="48.90" font-size="30.8" textLength="120.66" lengthAdjust="spacingAndGlyphs" fill="#fff" stroke="#fff" stroke-width="0.35">Brake Pad</text>
<text x="48.34" y="429.80" font-size="16" textLength="150.81" lengthAdjust="spacingAndGlyphs" fill="#fff" >Inner Brake Pads Specs</text>
<text x="221.74" y="429.80" font-size="16" textLength="154.01" lengthAdjust="spacingAndGlyphs" fill="#fff" >Outer Brake Pads Specs</text>
<text x="470.59" y="429.70" font-size="16" textLength="42.58" lengthAdjust="spacingAndGlyphs" fill="#fff" >FMSI #</text>
<text x="638.80" y="429.60" font-size="16" textLength="84.36" lengthAdjust="spacingAndGlyphs" fill="#fff" >Related Parts</text>
<text x="78.97" y="453.50" font-size="12.3" textLength="78.87" lengthAdjust="spacingAndGlyphs" fill="#111" >Inner Pad Width:</text>
<text x="160.94" y="453.50" font-size="12.3" textLength="24.57" lengthAdjust="spacingAndGlyphs" fill="#111" >116.1</text>
<text x="74.71" y="469.30" font-size="12.3" textLength="83.62" lengthAdjust="spacingAndGlyphs" fill="#111" >Inner Pad Height:</text>
<text x="161.02" y="469.30" font-size="12.3" textLength="19.54" lengthAdjust="spacingAndGlyphs" fill="#111" >58.6</text>
<text x="42.48" y="485.10" font-size="12.3" textLength="115.98" lengthAdjust="spacingAndGlyphs" fill="#111" >Inner Pad Thk w/o Shim:</text>
<text x="160.94" y="485.10" font-size="12.3" textLength="19.61" lengthAdjust="spacingAndGlyphs" fill="#111" >16.6</text>
<text x="61.32" y="500.80" font-size="12.3" textLength="96.36" lengthAdjust="spacingAndGlyphs" fill="#111" >Sensor Wire Length:</text>
<text x="253.91" y="453.50" font-size="12.3" textLength="80.41" lengthAdjust="spacingAndGlyphs" fill="#111" >Outer Pad Width:</text>
<text x="337.75" y="453.50" font-size="12.3" textLength="24.33" lengthAdjust="spacingAndGlyphs" fill="#111" >116.1</text>
<text x="250.21" y="469.30" font-size="12.3" textLength="84.92" lengthAdjust="spacingAndGlyphs" fill="#111" >Outer Pad Height:</text>
<text x="337.91" y="469.30" font-size="12.3" textLength="19.67" lengthAdjust="spacingAndGlyphs" fill="#111" >58.6</text>
<text x="217.22" y="485.10" font-size="12.3" textLength="117.89" lengthAdjust="spacingAndGlyphs" fill="#111" >Outer Pad Thk w/o Shim:</text>
<text x="338.26" y="485.10" font-size="12.3" textLength="20.00" lengthAdjust="spacingAndGlyphs" fill="#111" >16.6</text>
<text x="391.73" y="453.70" font-size="12.3" textLength="27.64" lengthAdjust="spacingAndGlyphs" fill="#111" >FMSI:</text>
<text x="423.38" y="453.70" font-size="12.3" textLength="28.90" lengthAdjust="spacingAndGlyphs" fill="#111" >D1018</text>
<text x="495.97" y="453.70" font-size="12.3" textLength="27.63" lengthAdjust="spacingAndGlyphs" fill="#111" >FMSI:</text>
<text x="391.73" y="469.50" font-size="12.3" textLength="27.64" lengthAdjust="spacingAndGlyphs" fill="#111" >FMSI:</text>
<text x="495.97" y="469.50" font-size="12.3" textLength="27.63" lengthAdjust="spacingAndGlyphs" fill="#111" >FMSI:</text>
<text x="391.73" y="485.30" font-size="12.3" textLength="27.64" lengthAdjust="spacingAndGlyphs" fill="#111" >FMSI:</text>
<text x="495.97" y="485.30" font-size="12.3" textLength="27.63" lengthAdjust="spacingAndGlyphs" fill="#111" >FMSI:</text>
<text x="391.73" y="501.10" font-size="12.3" textLength="27.64" lengthAdjust="spacingAndGlyphs" fill="#111" >FMSI:</text>
<text x="495.97" y="501.10" font-size="12.3" textLength="27.63" lengthAdjust="spacingAndGlyphs" fill="#111" >FMSI:</text>
<text x="391.73" y="516.80" font-size="12.3" textLength="27.64" lengthAdjust="spacingAndGlyphs" fill="#111" >FMSI:</text>
<text x="495.97" y="516.80" font-size="12.3" textLength="27.63" lengthAdjust="spacingAndGlyphs" fill="#111" >FMSI:</text>
<text x="391.73" y="532.60" font-size="12.3" textLength="27.64" lengthAdjust="spacingAndGlyphs" fill="#111" >FMSI:</text>
<text x="495.97" y="532.60" font-size="12.3" textLength="27.63" lengthAdjust="spacingAndGlyphs" fill="#111" >FMSI:</text>
<text x="391.73" y="548.30" font-size="12.3" textLength="27.64" lengthAdjust="spacingAndGlyphs" fill="#111" >FMSI:</text>
<text x="495.97" y="548.30" font-size="12.3" textLength="27.63" lengthAdjust="spacingAndGlyphs" fill="#111" >FMSI:</text>
<text x="603.67" y="453.40" font-size="12.3" textLength="71.64" lengthAdjust="spacingAndGlyphs" fill="#111" >Hardware Kit #:</text>
<text x="95.82" y="566.70" font-size="14.5" textLength="42.30" lengthAdjust="spacingAndGlyphs" fill="#111" >Note 1:</text>
<text x="95.82" y="585.40" font-size="14.5" textLength="42.30" lengthAdjust="spacingAndGlyphs" fill="#111" >Note 2:</text>
<text x="227.61" y="132.00" font-size="10.3" textLength="32.46" lengthAdjust="spacingAndGlyphs" fill="#222" font-style="italic">116.1</text>
<text x="75.18" y="201.60" font-size="10.3" textLength="25.67" lengthAdjust="spacingAndGlyphs" fill="#222" font-style="italic">58.6</text>
<text x="74.68" y="313.60" font-size="10.3" textLength="25.88" lengthAdjust="spacingAndGlyphs" fill="#222" font-style="italic">16.6</text>
<g fill="#000"><rect x="99.5" y="42.6" width="4.5" height="5.8"/><rect x="108" y="42.6" width="4.5" height="5.8"/><rect x="126.5" y="42.6" width="4.5" height="5.8"/><rect x="135" y="42.6" width="5" height="5.8"/></g>
</svg>
</body></html>
